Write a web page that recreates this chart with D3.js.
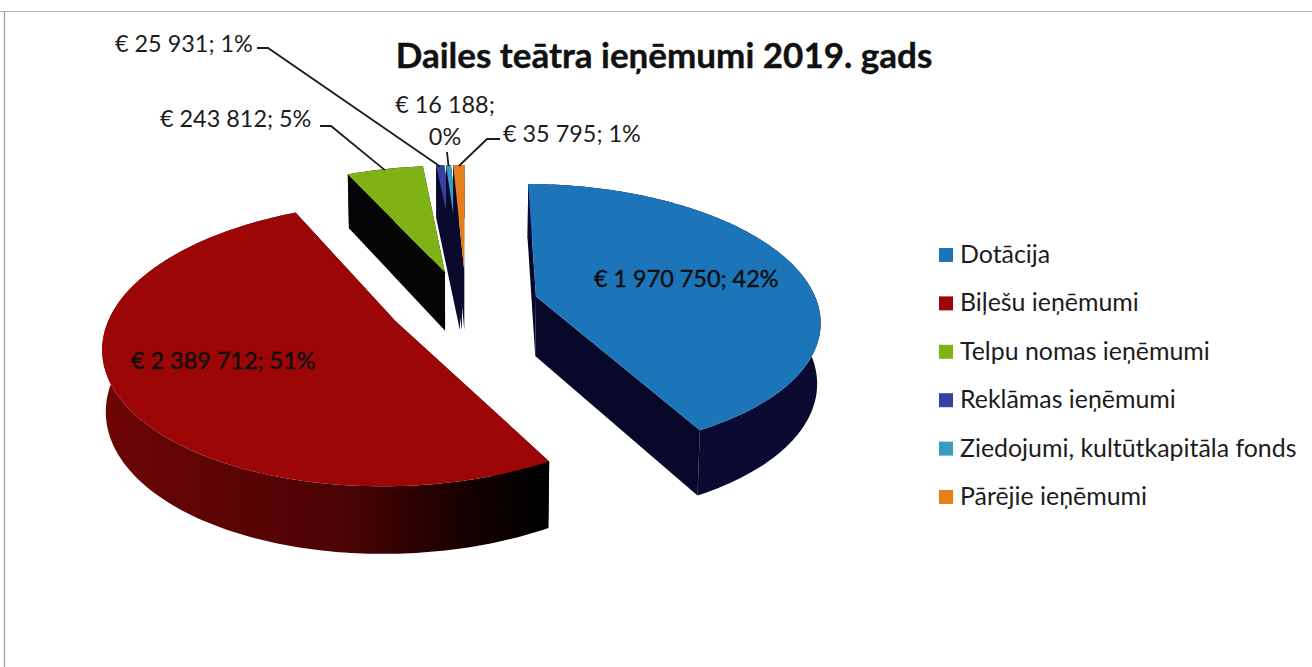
<!DOCTYPE html>
<html><head><meta charset="utf-8">
<script src="https://cdn.jsdelivr.net/npm/d3@7"></script>
<style>html,body{margin:0;padding:0;background:#fff}svg{display:block}text{font-family:Lato,"Open Sans",sans-serif;fill:#1c1c1c}</style>
</head><body><svg id="c" width="1312" height="667"></svg>
<script>
const title = "Dailes teātra ieņēmumi 2019. gads";
const categories = ["Dotācija","Biļešu ieņēmumi","Telpu nomas ieņēmumi","Reklāmas ieņēmumi","Ziedojumi, kultūtkapitāla fonds","Pārējie ieņēmumi"];
const values = [1970750,2389712,243812,25931,16188,35795];
const topColors = ["#1b75b8","#9c0606","#7fb214","#37409f","#3a9cc0","#e67e1c"];
const wallColors = ["#0a0a33","#5e0404","#050505","#0a0a2c","#0a0a2c","#0a0a2c"];

const W=1312,H=667;
const svg=d3.select("#c");
const view={cx:462,cy:305,rx:282,ry:133,persp:0.16,depth:60,explode:0.266};
const sliceRot=[0.5,-1,0,0,0,0];   // small per-slice view rotation, degrees
const sliceDx=[2,2,2,4,4,4];       // small per-slice view shift, pixels
const xS=d3.scaleLinear().domain([-1,1]).range([view.cx-view.rx,view.cx+view.rx]);
const yS=d3.scaleLinear().domain([-1,1]).range([view.cy+view.ry,view.cy-view.ry]);
function project(gx,gy,z,dx){
  const s=1/(1+view.persp*gy);
  const k=z?0.99:1;
  return [xS(gx*s*k)+dx, yS(gy*s)+z*view.depth/(1+0.1*gy)];
}
const total=d3.sum(values);
const pie=d3.pie().sort(null).startAngle(0).endAngle(2*Math.PI);
const arcs=pie(values);
const line=d3.line();
const fmt=d3.formatLocale({decimal:",",thousands:" ",grouping:[3],currency:["€ ",""]}).format("$,d");
const labelText=i=>`${fmt(values[i])}; ${Math.round(values[i]/total*100)}%`;

function geom(a,i){
  const rot=sliceRot[i]*Math.PI/180, dx=sliceDx[i];
  const t0=a.startAngle+rot,t1=a.endAngle+rot;
  const mid=(a.startAngle+a.endAngle)/2;
  const ox=view.explode*Math.sin(mid), oy=view.explode*Math.cos(mid);
  const steps=Math.max(2,Math.ceil((t1-t0)/(Math.PI/180)));
  const angs=d3.range(steps+1).map(j=>t0+(t1-t0)*j/steps);
  const rim=z=>angs.map(t=>project(ox+Math.sin(t),oy+Math.cos(t),z,dx));
  const apex=z=>project(ox,oy,z,dx);
  const rimMid=project(ox+Math.sin(mid+rot),oy+Math.cos(mid+rot),0,dx);
  return {rim,apex,rimMid};
}
const defs=svg.append("defs");
const grad=defs.append("linearGradient").attr("id","redWall").attr("gradientUnits","userSpaceOnUse")
  .attr("x1",104).attr("x2",548).attr("y1",0).attr("y2",0);
grad.append("stop").attr("offset",0).attr("stop-color","#6e0505");
grad.append("stop").attr("offset",0.55).attr("stop-color","#4a0303");
grad.append("stop").attr("offset",0.85).attr("stop-color","#100000");
grad.append("stop").attr("offset",1).attr("stop-color","#000");

svg.append("line").attr("x1",0).attr("x2",W).attr("y1",11.5).attr("y2",11.5).attr("stroke","#b4b4bc").attr("stroke-width",1.2);
svg.append("line").attr("x1",4.5).attr("x2",4.5).attr("y1",11).attr("y2",H).attr("stroke","#a8a8ac").attr("stroke-width",1.4);

const order=[2,3,4,5,0,1];
const pieG=svg.append("g");
order.forEach(i=>{
  const g=geom(arcs[i],i), g1=pieG.append("g");
  const t=g.rim(0), b=g.rim(1);
  const last=t.length-1;
  const wall=i===1?"url(#redWall)":wallColors[i];
  const cut=i===1?"#000":(i===0?"#07072a":wallColors[i]);
  g1.append("path").attr("d",line([g.apex(0),t[0],b[0],g.apex(1)])+"Z").attr("fill",cut);
  g1.append("path").attr("d",line([g.apex(0),t[last],b[last],g.apex(1)])+"Z").attr("fill",cut);
  g1.append("path").attr("d",line(t.concat(b.slice().reverse()))+"Z").attr("fill",wall);
  g1.append("path").attr("d",line([g.apex(0)].concat(t))+"Z").attr("fill",topColors[i]);
});

svg.append("text").attr("x",664).attr("y",68).attr("text-anchor","middle")
  .attr("font-size",35).attr("font-weight",700).style("fill","#111").attr("stroke","#111").attr("stroke-width",0.4).text(title);

const fs=23.4;
function lab(x,y,str,anchor,bold){
  const t=svg.append("text").attr("x",x).attr("y",y).attr("font-size",fs).attr("text-anchor",anchor||"start").text(str);
  if(bold) t.style("fill","#0e0e0e").attr("stroke","#0e0e0e").attr("stroke-width",0.4);
}
lab(594,287,labelText(0),"start",true);
lab(131,369,labelText(1),"start",true);
lab(160,127,labelText(2));
lab(115,52,labelText(3));
lab(445,113,labelText(4).replace(/ \d+%$/,""),"middle");
lab(445,145,labelText(4).match(/\d+%$/)[0],"middle");
lab(503,142,labelText(5));

const leader=d3.line();
function lead(points,i){
  const end=geom(arcs[i],i).rimMid;
  svg.append("path").attr("d",leader(points.concat([[end[0],end[1]+1]])))
    .attr("fill","none").attr("stroke","#1c1c1c").attr("stroke-width",1.8);
}
lead([[320,126],[331,126]],2);
lead([[257,48],[268,48]],3);
lead([[447,152]],4);
lead([[500,139],[487,139]],5);

const legendY=d3.scalePoint().domain(categories).range([255,497]);
const leg=svg.append("g");
categories.forEach((c,i)=>{
  const y=legendY(c);
  leg.append("rect").attr("x",939).attr("y",y-7).attr("width",14).attr("height",14).attr("fill",topColors[i]);
  leg.append("text").attr("x",960).attr("y",y+8).attr("font-size",24.9).text(c);
});
</script></body></html>
